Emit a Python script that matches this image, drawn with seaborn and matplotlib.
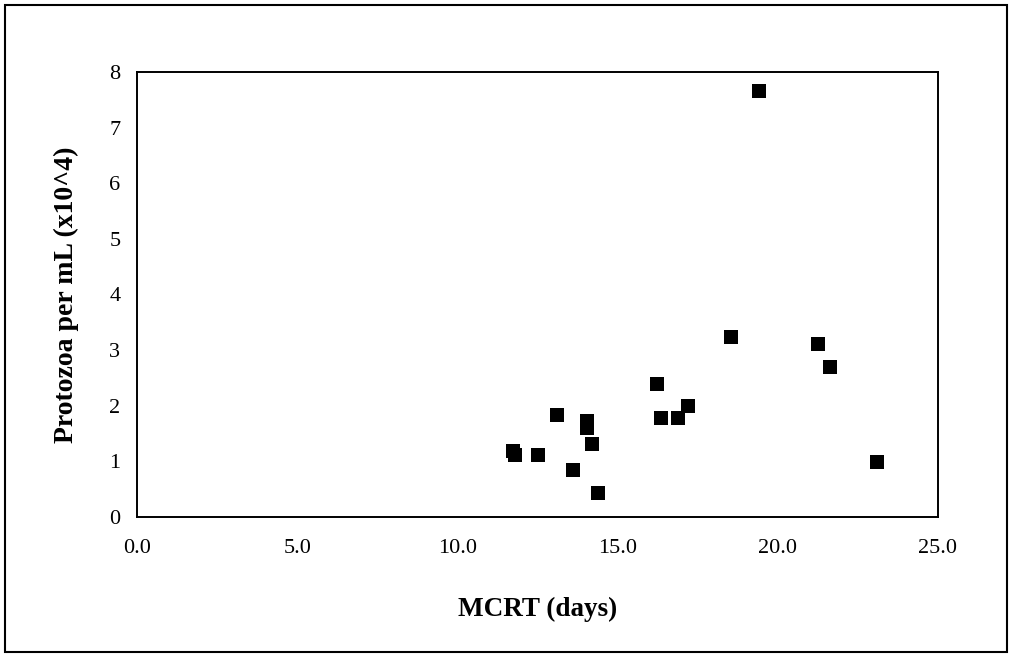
import matplotlib
matplotlib.use("Agg")
import matplotlib.pyplot as plt
import pandas as pd
import seaborn as sns
from matplotlib.patches import Rectangle

# values
mcrt_days = [11.74, 11.80, 12.52, 13.11, 14.04, 14.04, 14.20, 13.60, 14.39,
             16.23, 16.35, 16.88, 17.20, 18.54, 19.41, 21.25, 21.63, 23.09]
protozoa = [1.19, 1.12, 1.12, 1.83, 1.73, 1.60, 1.31, 0.85, 0.43,
            2.39, 1.78, 1.78, 2.00, 3.24, 7.66, 3.11, 2.70, 0.99]
x_ticks = [0, 5, 10, 15, 20, 25]
y_ticks = [0, 1, 2, 3, 4, 5, 6, 7, 8]

df = pd.DataFrame({"MCRT (days)": mcrt_days, "Protozoa per mL (x10^4)": protozoa})

sns.set_style("white")
plt.rcParams["font.family"] = ["Liberation Serif", "DejaVu Serif"]
plt.rcParams["text.color"] = "black"
plt.rcParams["axes.labelcolor"] = "black"
plt.rcParams["xtick.color"] = "black"
plt.rcParams["ytick.color"] = "black"

fig = plt.figure(figsize=(10.09, 6.58), dpi=100)
ax = fig.add_axes([0.1358, 0.2143, 0.7938, 0.6763])

sns.scatterplot(data=df, x="MCRT (days)", y="Protozoa per mL (x10^4)", ax=ax,
                marker="s", s=110, color="black", edgecolor="black", linewidth=0)

ax.set_xlim(0, 25)
ax.set_ylim(0, 8)
ax.set_xticks(x_ticks)
ax.set_xticklabels([f"{v:.1f}" for v in x_ticks])
ax.set_yticks(y_ticks)
ax.tick_params(axis="x", direction="inout", length=12, width=1.2, labelsize=16, pad=10)
ax.tick_params(axis="y", direction="out", length=6, width=1.2, labelsize=16, pad=6)
for sp in ax.spines.values():
    sp.set_visible(True)
    sp.set_color("black")
    sp.set_linewidth(1.4)

ax.set_xlabel("MCRT (days)", fontsize=19.5, fontweight="bold", labelpad=28)
ax.set_ylabel("Protozoa per mL (x10^4)", fontsize=20, fontweight="bold", labelpad=22)

# outer frame round the whole chart
fig.patches.append(Rectangle((0.005, 0.009), 0.993, 0.983, transform=fig.transFigure,
                             fill=False, edgecolor="black", linewidth=1.5))

fig.savefig("out.png", dpi=100, facecolor="white")
